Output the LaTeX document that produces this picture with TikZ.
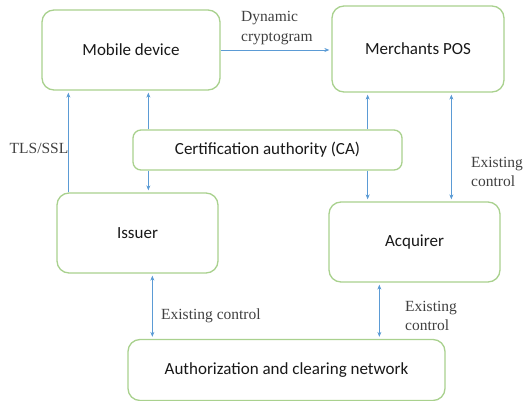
\documentclass[tikz,border=0pt]{standalone}
\usepackage{fontspec}
\setmainfont{Liberation Serif}
\newfontfamily\boxfont{Carlito}
\usetikzlibrary{arrows.meta,calc}
\definecolor{boxgreen}{RGB}{169,209,142}
\definecolor{linkblue}{RGB}{91,155,213}
\definecolor{labelgray}{RGB}{64,64,64}
\tikzset{
  blk/.style={draw=boxgreen,line width=1.3pt,rounded corners=12pt,fill=white,
    font=\boxfont\fontsize{17}{20}\selectfont,text=black!90,inner sep=0pt},
  link/.style={draw=linkblue,line width=0.6pt,-{Stealth[length=5pt,width=4pt]},shorten >=2pt},
  blink/.style={link,{Stealth[length=5pt,width=4pt]}-{Stealth[length=5pt,width=4pt]},shorten <=2pt},
  lbl/.style={font=\fontsize{15.5}{19.5}\selectfont,text=labelgray,inner sep=0pt,align=left}
}
\begin{document}
\begin{tikzpicture}[x=1pt,y=-1pt]
\useasboundingbox (0,0) rectangle (528,401);
\node[blk,minimum width=178pt,minimum height=80pt] (mob) at (131,50) {Mobile device};
\node[blk,minimum width=172pt,minimum height=86pt] (pos) at (418,49) {Merchants POS};
\node[blk,minimum width=269pt,minimum height=40pt,rounded corners=8pt] (ca) at (267.5,150) {Certification authority (CA)};
\node[blk,minimum width=161pt,minimum height=80pt] (iss) at (137.5,233) {Issuer};
\node[blk,minimum width=171pt,minimum height=80pt] (acq) at (414.5,242) {Acquirer};
\node[blk,minimum width=317pt,minimum height=61pt] (net) at (286.5,370) {Authorization and clearing network};

\draw[link] (mob.east) -- (mob.east -| pos.west);
\draw[link] ([xshift=12pt]iss.north west) -- ([xshift=12pt]iss.north west |- mob.south);
\draw[link] ([xshift=16pt]ca.north west) -- ([xshift=16pt]ca.north west |- mob.south);
\draw[link] ([xshift=16pt]ca.south west) -- ([xshift=16pt]ca.south west |- iss.north);
\draw[link] ([xshift=-35pt]ca.north east) -- ([xshift=-35pt]ca.north east |- pos.south);
\draw[link] ([xshift=-35pt]ca.south east) -- ([xshift=-35pt]ca.south east |- acq.north);
\draw[blink] ([xshift=120pt]pos.south west) -- ([xshift=120pt]pos.south west |- acq.north);
\draw[blink] ([xshift=96pt]iss.south west) -- ([xshift=96pt]iss.south west |- net.north);
\draw[blink] ([xshift=51pt]acq.south west) -- ([xshift=51pt]acq.south west |- net.north);

\node[lbl,anchor=west] (dyn) at (241,28) {Dynamic\\cryptogram};
\node[lbl] (tls) at (39,148) {TLS/SSL};
\node[lbl,anchor=west] (ec1) at (471,172) {Existing\\control};
\node[lbl,anchor=west] (ec2) at (161,316) {Existing control};
\node[lbl,anchor=west] (ec3) at (405,316) {Existing\\control};
\end{tikzpicture}
\end{document}
